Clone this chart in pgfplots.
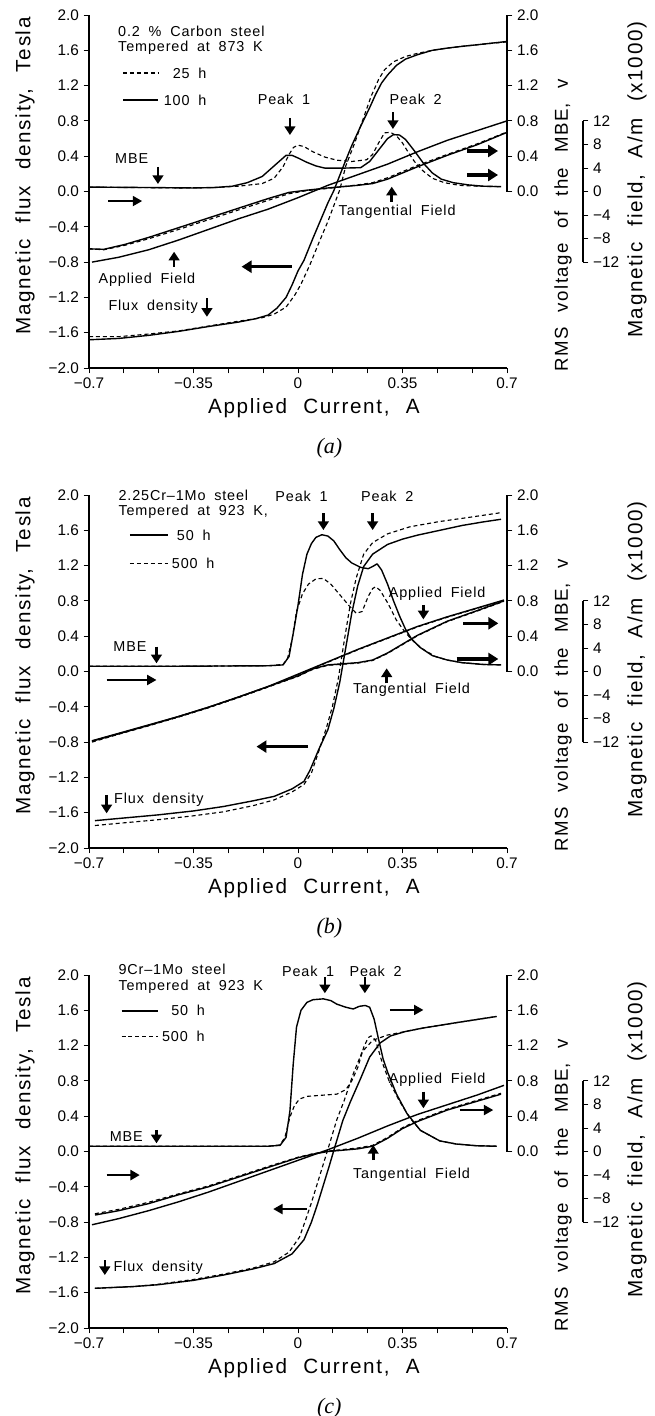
\documentclass[border=0pt]{standalone}
\usepackage{fontspec}
\setmainfont{Liberation Sans}
\newfontfamily\lblfont[LetterSpace=8,WordSpace=2.2]{Liberation Sans}
\newfontfamily\annfont[LetterSpace=6,WordSpace=1.8]{Liberation Sans}
\newfontfamily\capfont{Liberation Serif}
\usepackage{pgfplots}
\pgfplotsset{compat=1.18}
\usetikzlibrary{arrows.meta}

\tikzset{
 sol/.style={black, line width=1.05pt, line join=round},
 das/.style={black, line width=0.85pt, dash pattern=on 3pt off 2.2pt, line join=round},
 vtarr/.style={-{Triangle[length=6.5pt,width=8pt]}, line width=1.9pt},
 thk/.style={-{Triangle[length=7.5pt,width=9pt]}, line width=2.6pt},
 thn/.style={-{Triangle[length=7pt,width=7.5pt]}, line width=1.4pt},
 ann/.style={font=\annfont\fontsize{10.8}{12}\selectfont, inner sep=0pt},
 lbl/.style={font=\lblfont\fontsize{15.5}{18}\selectfont, inner sep=0pt},
 captxt/.style={font=\capfont\itshape\fontsize{16.5}{18}\selectfont},
}
\pgfplotsset{
 common/.style={scale only axis, anchor=south west, tick align=outside,
   major tick length=4pt, minor tick length=4pt,
   tick style={black, line width=0.7pt}, axis line style={line width=0.9pt},
   ticklabel style={font=\fontsize{11.5}{13}\selectfont}},
 mainax/.style={common, width=313.5pt, height=264.75pt,
   xmin=-0.7, xmax=0.7, ymin=-2, ymax=2, axis lines*=left,
   xtick={-0.7,-0.35,0,0.35,0.7}, xticklabels={−0.7,−0.35,0,0.35,0.7},
   minor x tick num=2,
   ytick={-2,-1.6,-1.2,-0.8,-0.4,0,0.4,0.8,1.2,1.6,2},
   yticklabels={−2.0,−1.6,−1.2,−0.8,−0.4,0.0,0.4,0.8,1.2,1.6,2.0},
   clip=false},
 rmsax/.style={common, width=313.5pt, height=132.375pt,
   xmin=-0.7, xmax=0.7, ymin=0, ymax=2, hide x axis, axis y line*=right,
   ytick={0,0.4,0.8,1.2,1.6,2}, yticklabels={0.0,0.4,0.8,1.2,1.6,2.0}},
 magax/.style={common, width=370.5pt, height=105.9pt,
   xmin=0, xmax=1, ymin=-12, ymax=12, hide x axis, axis y line*=right,
   ytick={-12,-8,-4,0,4,8,12}, yticklabels={−12,−8,−4,0,4,8,12}},
}

\begin{document}
\begin{tikzpicture}
\path[use as bounding box] (0pt,0pt) rectangle (491.25pt,-1062pt);

%%%%%%%%%%%%%%%%%%%%%%%% PANEL A
\begin{axis}[rmsax, at={(66.75pt,-143.625pt)}]
\end{axis}
\begin{axis}[magax, at={(66.75pt,-196.575pt)}]
\end{axis}
\begin{axis}[mainax, at={(66.75pt,-276pt)}]
\addplot[sol] coordinates {(-0.70,0.05)(-0.50,0.045)(-0.35,0.04)(-0.28,0.045)(-0.22,0.06)(-0.17,0.10)(-0.12,0.17)(-0.09,0.26)(-0.06,0.35)(-0.04,0.41)(-0.02,0.41)(0.00,0.38)(0.03,0.33)(0.06,0.29)(0.09,0.265)(0.15,0.265)(0.21,0.27)(0.24,0.34)(0.27,0.47)(0.30,0.60)(0.32,0.645)(0.34,0.64)(0.36,0.59)(0.39,0.46)(0.42,0.32)(0.45,0.21)(0.48,0.14)(0.52,0.10)(0.57,0.075)(0.62,0.06)(0.68,0.055)};
\addplot[das] coordinates {(-0.70,0.05)(-0.40,0.04)(-0.28,0.045)(-0.20,0.06)(-0.12,0.09)(-0.08,0.15)(-0.05,0.28)(-0.03,0.42)(-0.015,0.50)(0.00,0.525)(0.02,0.51)(0.05,0.45)(0.09,0.39)(0.13,0.355)(0.18,0.34)(0.23,0.36)(0.25,0.42)(0.27,0.55)(0.29,0.665)(0.31,0.67)(0.33,0.63)(0.35,0.55)(0.37,0.44)(0.39,0.34)(0.42,0.23)(0.45,0.15)(0.49,0.10)(0.54,0.07)(0.60,0.06)(0.68,0.055)};
\addplot[sol] coordinates {(-0.70,-1.68)(-0.60,-1.665)(-0.50,-1.63)(-0.40,-1.585)(-0.30,-1.53)(-0.20,-1.48)(-0.14,-1.44)(-0.10,-1.40)(-0.07,-1.32)(-0.04,-1.20)(-0.02,-1.06)(0.00,-0.90)(0.02,-0.78)(0.05,-0.53)(0.08,-0.29)(0.10,-0.13)(0.12,0.01)(0.15,0.27)(0.18,0.52)(0.21,0.74)(0.24,0.95)(0.26,1.10)(0.28,1.23)(0.30,1.32)(0.33,1.43)(0.36,1.50)(0.40,1.55)(0.45,1.60)(0.50,1.625)(0.55,1.645)(0.62,1.67)(0.70,1.70)};
\addplot[das] coordinates {(-0.70,-1.645)(-0.60,-1.645)(-0.50,-1.615)(-0.40,-1.58)(-0.30,-1.525)(-0.20,-1.47)(-0.12,-1.43)(-0.08,-1.39)(-0.04,-1.31)(-0.01,-1.17)(0.01,-1.05)(0.04,-0.83)(0.07,-0.58)(0.10,-0.34)(0.12,-0.16)(0.14,0.02)(0.16,0.29)(0.19,0.55)(0.22,0.84)(0.245,1.08)(0.27,1.27)(0.29,1.38)(0.32,1.47)(0.36,1.53)(0.40,1.565)(0.45,1.60)(0.50,1.625)(0.55,1.645)(0.62,1.67)(0.70,1.695)};
\addplot[sol] coordinates {(-0.69,-0.80)(-0.6,-0.745)(-0.5,-0.66)(-0.4,-0.55)(-0.3,-0.43)(-0.2,-0.31)(-0.1,-0.20)(0,-0.07)(0.1,0.07)(0.2,0.19)(0.3,0.31)(0.4,0.45)(0.5,0.58)(0.6,0.69)(0.7,0.80)};
\addplot[sol] coordinates {(-0.70,-0.65)(-0.65,-0.655)(-0.58,-0.60)(-0.5,-0.52)(-0.4,-0.41)(-0.3,-0.30)(-0.2,-0.19)(-0.1,-0.08)(-0.03,-0.01)(0.03,0.015)(0.1,0.04)(0.2,0.07)(0.25,0.09)(0.3,0.14)(0.35,0.21)(0.4,0.28)(0.5,0.41)(0.6,0.53)(0.7,0.67)};
\addplot[das] coordinates {(-0.70,-0.65)(-0.65,-0.66)(-0.58,-0.61)(-0.5,-0.535)(-0.4,-0.43)(-0.3,-0.32)(-0.2,-0.21)(-0.1,-0.10)(-0.03,-0.025)(0.03,0.01)(0.1,0.035)(0.2,0.075)(0.25,0.10)(0.3,0.155)(0.35,0.225)(0.4,0.295)(0.5,0.42)(0.6,0.54)(0.7,0.675)};
\node[ann, anchor=west] at (axis cs:-0.603,1.815) {0.2 \% Carbon steel};
\node[ann, anchor=west] at (axis cs:-0.603,1.625) {Tempered at 873 K};
\draw[das] (axis cs:-0.586,1.343) -- (axis cs:-0.469,1.343);
\node[ann] at (axis cs:-0.363,1.343) {25 h};
\draw[sol, line width=1.4pt] (axis cs:-0.586,1.037) -- (axis cs:-0.469,1.037);
\node[ann] at (axis cs:-0.378,1.037) {100 h};
\node[ann] at (axis cs:-0.047,1.045) {Peak 1};
\draw[vtarr] (axis cs:-0.027,0.833) -- (axis cs:-0.027,0.64);
\node[ann] at (axis cs:0.394,1.045) {Peak 2};
\draw[vtarr] (axis cs:0.318,0.90) -- (axis cs:0.318,0.708);
\node[ann] at (axis cs:-0.557,0.368) {MBE};
\draw[vtarr] (axis cs:-0.469,0.278) -- (axis cs:-0.469,0.085);
\draw[thn] (axis cs:-0.636,-0.108) -- (axis cs:-0.522,-0.108);
\draw[thk] (axis cs:0.566,0.459) -- (axis cs:0.67,0.459);
\draw[thk] (axis cs:0.566,0.187) -- (axis cs:0.67,0.187);
\node[ann] at (axis cs:0.332,-0.229) {Tangential Field};
\draw[vtarr] (axis cs:0.314,-0.116) -- (axis cs:0.314,0.055);
\node[ann] at (axis cs:-0.506,-1.003) {Applied Field};
\draw[vtarr] (axis cs:-0.415,-0.852) -- (axis cs:-0.415,-0.682);
\draw[thk] (axis cs:-0.021,-0.852) -- (axis cs:-0.189,-0.852);
\node[ann] at (axis cs:-0.485,-1.305) {Flux density};
\draw[vtarr] (axis cs:-0.305,-1.207) -- (axis cs:-0.305,-1.42);
\node[lbl, rotate=90] at (rel axis cs:-0.153,0.544) {Magnetic flux density, Tesla};
\node[lbl] at (rel axis cs:0.538,-0.113) {Applied Current, A};
\node[captxt] at (rel axis cs:0.575,-0.226) {(a)};
\node[lbl, rotate=90, font=\lblfont\fontsize{14}{16}\selectfont] at (rel axis cs:1.134,0.405) {RMS voltage of the MBE, v};
\node[lbl, rotate=90] at (rel axis cs:1.311,0.533) {Magnetic field, A/m (x1000)};
\end{axis}

%%%%%%%%%%%%%%%%%%%%%%%% PANEL B
\begin{axis}[rmsax, at={(66.75pt,-503.625pt)}]
\end{axis}
\begin{axis}[magax, at={(66.75pt,-556.575pt)}]
\end{axis}
\begin{axis}[mainax, at={(66.75pt,-636pt)}]
\addplot[sol] coordinates {(-0.70,0.06)(-0.40,0.06)(-0.10,0.065)(-0.05,0.075)(-0.03,0.17)(-0.015,0.45)(0.00,0.75)(0.015,1.10)(0.03,1.33)(0.045,1.45)(0.06,1.52)(0.08,1.55)(0.10,1.535)(0.12,1.48)(0.14,1.38)(0.16,1.29)(0.18,1.23)(0.21,1.18)(0.235,1.165)(0.25,1.19)(0.265,1.22)(0.28,1.15)(0.30,0.99)(0.32,0.80)(0.34,0.63)(0.36,0.48)(0.38,0.37)(0.41,0.27)(0.45,0.18)(0.50,0.13)(0.55,0.10)(0.62,0.08)(0.68,0.075)};
\addplot[das] coordinates {(-0.70,0.06)(-0.40,0.06)(-0.10,0.065)(-0.05,0.08)(-0.035,0.15)(-0.02,0.36)(-0.005,0.68)(0.015,0.88)(0.035,0.99)(0.06,1.05)(0.085,1.055)(0.11,0.99)(0.14,0.87)(0.17,0.75)(0.195,0.66)(0.215,0.68)(0.235,0.85)(0.25,0.94)(0.26,0.96)(0.275,0.92)(0.30,0.78)(0.33,0.58)(0.36,0.44)(0.39,0.33)(0.42,0.25)(0.46,0.17)(0.50,0.13)(0.55,0.10)(0.62,0.08)(0.68,0.075)};
\addplot[sol] coordinates {(-0.68,-1.69)(-0.60,-1.665)(-0.47,-1.625)(-0.35,-1.58)(-0.25,-1.53)(-0.15,-1.465)(-0.08,-1.415)(-0.02,-1.33)(0.02,-1.245)(0.04,-1.12)(0.07,-0.88)(0.10,-0.66)(0.12,-0.42)(0.14,-0.12)(0.16,0.27)(0.18,0.66)(0.20,0.97)(0.22,1.19)(0.25,1.33)(0.30,1.44)(0.35,1.50)(0.40,1.545)(0.475,1.60)(0.55,1.655)(0.62,1.695)(0.68,1.725)};
\addplot[das] coordinates {(-0.68,-1.745)(-0.60,-1.72)(-0.47,-1.68)(-0.35,-1.635)(-0.25,-1.59)(-0.15,-1.52)(-0.08,-1.455)(-0.02,-1.365)(0.02,-1.28)(0.045,-1.15)(0.07,-0.90)(0.095,-0.64)(0.115,-0.40)(0.135,-0.08)(0.155,0.35)(0.175,0.76)(0.195,1.06)(0.22,1.33)(0.25,1.46)(0.30,1.56)(0.375,1.64)(0.475,1.70)(0.58,1.75)(0.68,1.80)};
\addplot[sol] coordinates {(-0.69,-0.79)(-0.6,-0.705)(-0.5,-0.61)(-0.4,-0.51)(-0.3,-0.405)(-0.2,-0.29)(-0.1,-0.17)(0,-0.03)(0.1,0.11)(0.2,0.25)(0.3,0.38)(0.4,0.51)(0.5,0.62)(0.6,0.72)(0.69,0.81)};
\addplot[das] coordinates {(-0.69,-0.80)(-0.6,-0.71)(-0.5,-0.615)(-0.4,-0.515)(-0.3,-0.41)(-0.2,-0.295)(-0.1,-0.175)(0,-0.035)(0.1,0.105)(0.2,0.245)(0.3,0.375)(0.4,0.505)(0.5,0.615)(0.6,0.715)(0.69,0.805)};
\addplot[sol] coordinates {(-0.69,-0.785)(-0.6,-0.70)(-0.5,-0.605)(-0.4,-0.51)(-0.3,-0.405)(-0.2,-0.29)(-0.1,-0.17)(0,-0.05)(0.05,0.03)(0.1,0.075)(0.2,0.10)(0.25,0.13)(0.3,0.21)(0.35,0.31)(0.4,0.41)(0.5,0.57)(0.6,0.69)(0.69,0.80)};
\addplot[das] coordinates {(-0.69,-0.79)(-0.6,-0.705)(-0.5,-0.61)(-0.4,-0.515)(-0.3,-0.41)(-0.2,-0.295)(-0.1,-0.175)(0,-0.055)(0.05,0.025)(0.1,0.07)(0.2,0.095)(0.25,0.125)(0.3,0.205)(0.35,0.305)(0.4,0.405)(0.5,0.565)(0.6,0.685)(0.69,0.795)};
\node[ann, anchor=west] at (axis cs:-0.602,1.995) {2.25Cr–1Mo steel};
\node[ann, anchor=west] at (axis cs:-0.602,1.805) {Tempered at 923 K,};
\draw[sol, line width=1.4pt] (axis cs:-0.563,1.547) -- (axis cs:-0.435,1.547);
\node[ann] at (axis cs:-0.349,1.547) {50 h};
\draw[das] (axis cs:-0.563,1.226) -- (axis cs:-0.435,1.226);
\node[ann] at (axis cs:-0.351,1.226) {500 h};
\node[ann] at (axis cs:0.012,1.98) {Peak 1};
\draw[vtarr] (axis cs:0.085,1.792) -- (axis cs:0.085,1.603);
\node[ann] at (axis cs:0.299,1.98) {Peak 2};
\draw[vtarr] (axis cs:0.25,1.792) -- (axis cs:0.25,1.603);
\node[ann] at (axis cs:0.466,0.886) {Applied Field};
\draw[vtarr] (axis cs:0.42,0.754) -- (axis cs:0.42,0.591);
\node[ann] at (axis cs:-0.563,0.281) {MBE};
\draw[vtarr] (axis cs:-0.474,0.281) -- (axis cs:-0.474,0.093);
\draw[thn] (axis cs:-0.641,-0.096) -- (axis cs:-0.474,-0.096);
\node[ann] at (axis cs:0.38,-0.21) {Tangential Field};
\draw[vtarr] (axis cs:0.297,-0.134) -- (axis cs:0.297,0.036);
\draw[thk] (axis cs:0.553,0.546) -- (axis cs:0.671,0.546);
\draw[thk] (axis cs:0.531,0.142) -- (axis cs:0.671,0.142);
\draw[thk] (axis cs:0.034,-0.851) -- (axis cs:-0.139,-0.851);
\node[ann] at (axis cs:-0.466,-1.448) {Flux density};
\draw[vtarr] (axis cs:-0.641,-1.399) -- (axis cs:-0.641,-1.607);
\node[lbl, rotate=90] at (rel axis cs:-0.153,0.544) {Magnetic flux density, Tesla};
\node[lbl] at (rel axis cs:0.538,-0.113) {Applied Current, A};
\node[captxt] at (rel axis cs:0.575,-0.226) {(b)};
\node[lbl, rotate=90, font=\lblfont\fontsize{14}{16}\selectfont] at (rel axis cs:1.134,0.405) {RMS voltage of the MBE, v};
\node[lbl, rotate=90] at (rel axis cs:1.311,0.533) {Magnetic field, A/m (x1000)};
\end{axis}

%%%%%%%%%%%%%%%%%%%%%%%% PANEL C
\begin{axis}[rmsax, at={(66.75pt,-863.625pt)}]
\end{axis}
\begin{axis}[magax, at={(66.75pt,-916.575pt)}]
\end{axis}
\begin{axis}[mainax, at={(66.75pt,-996pt)}]
\addplot[sol] coordinates {(-0.70,0.06)(-0.40,0.06)(-0.10,0.06)(-0.06,0.07)(-0.04,0.16)(-0.027,0.46)(-0.016,0.99)(-0.005,1.41)(0.01,1.60)(0.03,1.69)(0.05,1.72)(0.085,1.73)(0.11,1.71)(0.13,1.67)(0.16,1.635)(0.185,1.615)(0.205,1.645)(0.225,1.655)(0.24,1.635)(0.255,1.50)(0.27,1.27)(0.285,1.05)(0.30,0.90)(0.33,0.65)(0.365,0.43)(0.41,0.24)(0.475,0.12)(0.53,0.085)(0.60,0.065)(0.665,0.06)};
\addplot[das] coordinates {(-0.70,0.06)(-0.40,0.06)(-0.10,0.06)(-0.06,0.075)(-0.044,0.16)(-0.027,0.39)(-0.012,0.52)(0.005,0.595)(0.03,0.625)(0.07,0.635)(0.13,0.65)(0.16,0.70)(0.18,0.80)(0.20,0.95)(0.22,1.18)(0.235,1.29)(0.245,1.31)(0.26,1.26)(0.28,1.03)(0.305,0.80)(0.34,0.57)(0.375,0.38)(0.41,0.24)(0.475,0.12)(0.53,0.085)(0.60,0.065)(0.665,0.06)};
\addplot[sol] coordinates {(-0.68,-1.55)(-0.55,-1.53)(-0.47,-1.51)(-0.35,-1.46)(-0.25,-1.40)(-0.15,-1.33)(-0.08,-1.27)(-0.02,-1.16)(0.02,-1.00)(0.045,-0.80)(0.065,-0.60)(0.085,-0.38)(0.105,-0.16)(0.125,0.07)(0.15,0.35)(0.175,0.56)(0.21,0.83)(0.24,1.07)(0.275,1.23)(0.31,1.31)(0.36,1.36)(0.42,1.40)(0.53,1.46)(0.665,1.53)};
\addplot[das] coordinates {(-0.68,-1.55)(-0.55,-1.53)(-0.47,-1.505)(-0.35,-1.45)(-0.25,-1.39)(-0.15,-1.32)(-0.08,-1.25)(-0.03,-1.14)(0.005,-0.97)(0.025,-0.78)(0.045,-0.58)(0.065,-0.36)(0.085,-0.14)(0.105,0.08)(0.13,0.36)(0.155,0.58)(0.185,0.88)(0.215,1.13)(0.25,1.26)(0.30,1.32)(0.36,1.36)(0.42,1.40)(0.53,1.46)(0.665,1.53)};
\addplot[sol] coordinates {(-0.69,-0.83)(-0.6,-0.76)(-0.5,-0.67)(-0.4,-0.57)(-0.3,-0.46)(-0.2,-0.34)(-0.1,-0.22)(0,-0.10)(0.1,0.02)(0.2,0.15)(0.3,0.29)(0.4,0.42)(0.5,0.53)(0.6,0.64)(0.69,0.75)};
\addplot[sol] coordinates {(-0.68,-0.72)(-0.6,-0.67)(-0.5,-0.59)(-0.4,-0.49)(-0.3,-0.40)(-0.2,-0.29)(-0.1,-0.18)(0,-0.07)(0.05,-0.03)(0.1,0.0)(0.2,0.03)(0.25,0.06)(0.3,0.15)(0.35,0.26)(0.4,0.34)(0.5,0.47)(0.6,0.57)(0.68,0.65)};
\addplot[das] coordinates {(-0.68,-0.705)(-0.6,-0.655)(-0.5,-0.575)(-0.4,-0.48)(-0.3,-0.39)(-0.2,-0.28)(-0.1,-0.17)(0,-0.065)(0.05,-0.025)(0.1,0.005)(0.2,0.04)(0.25,0.07)(0.3,0.16)(0.35,0.27)(0.4,0.35)(0.5,0.48)(0.6,0.58)(0.68,0.66)};
\node[ann, anchor=west] at (axis cs:-0.602,2.06) {9Cr–1Mo steel};
\node[ann, anchor=west] at (axis cs:-0.602,1.87) {Tempered at 923 K};
\draw[sol, line width=1.4pt] (axis cs:-0.591,1.596) -- (axis cs:-0.468,1.596);
\node[ann] at (axis cs:-0.368,1.596) {50 h};
\draw[das] (axis cs:-0.591,1.302) -- (axis cs:-0.468,1.302);
\node[ann] at (axis cs:-0.384,1.302) {500 h};
\node[ann] at (axis cs:0.034,2.04) {Peak 1};
\draw[vtarr] (axis cs:0.09,1.98) -- (axis cs:0.09,1.793);
\node[ann] at (axis cs:0.26,2.04) {Peak 2};
\draw[vtarr] (axis cs:0.224,1.98) -- (axis cs:0.224,1.793);
\draw[thn] (axis cs:0.308,1.604) -- (axis cs:0.42,1.604);
\node[ann] at (axis cs:0.466,0.81) {Applied Field};
\draw[vtarr] (axis cs:0.42,0.678) -- (axis cs:0.42,0.49);
\draw[thn] (axis cs:0.542,0.47) -- (axis cs:0.654,0.47);
\node[ann] at (axis cs:-0.575,0.168) {MBE};
\draw[vtarr] (axis cs:-0.474,0.244) -- (axis cs:-0.474,0.093);
\draw[thn, line width=1.8pt] (axis cs:-0.641,-0.267) -- (axis cs:-0.53,-0.267);
\node[ann] at (axis cs:0.38,-0.267) {Tangential Field};
\draw[vtarr] (axis cs:0.252,-0.097) -- (axis cs:0.252,0.073);
\draw[thn] (axis cs:0.029,-0.652) -- (axis cs:-0.083,-0.652);
\node[ann] at (axis cs:-0.468,-1.317) {Flux density};
\draw[vtarr] (axis cs:-0.647,-1.23) -- (axis cs:-0.647,-1.40);
\node[lbl, rotate=90] at (rel axis cs:-0.153,0.544) {Magnetic flux density, Tesla};
\node[lbl] at (rel axis cs:0.538,-0.113) {Applied Current, A};
\node[captxt] at (rel axis cs:0.575,-0.226) {(c)};
\node[lbl, rotate=90, font=\lblfont\fontsize{14}{16}\selectfont] at (rel axis cs:1.134,0.405) {RMS voltage of the MBE, v};
\node[lbl, rotate=90] at (rel axis cs:1.311,0.533) {Magnetic field, A/m (x1000)};
\end{axis}
\end{tikzpicture}
\end{document}
